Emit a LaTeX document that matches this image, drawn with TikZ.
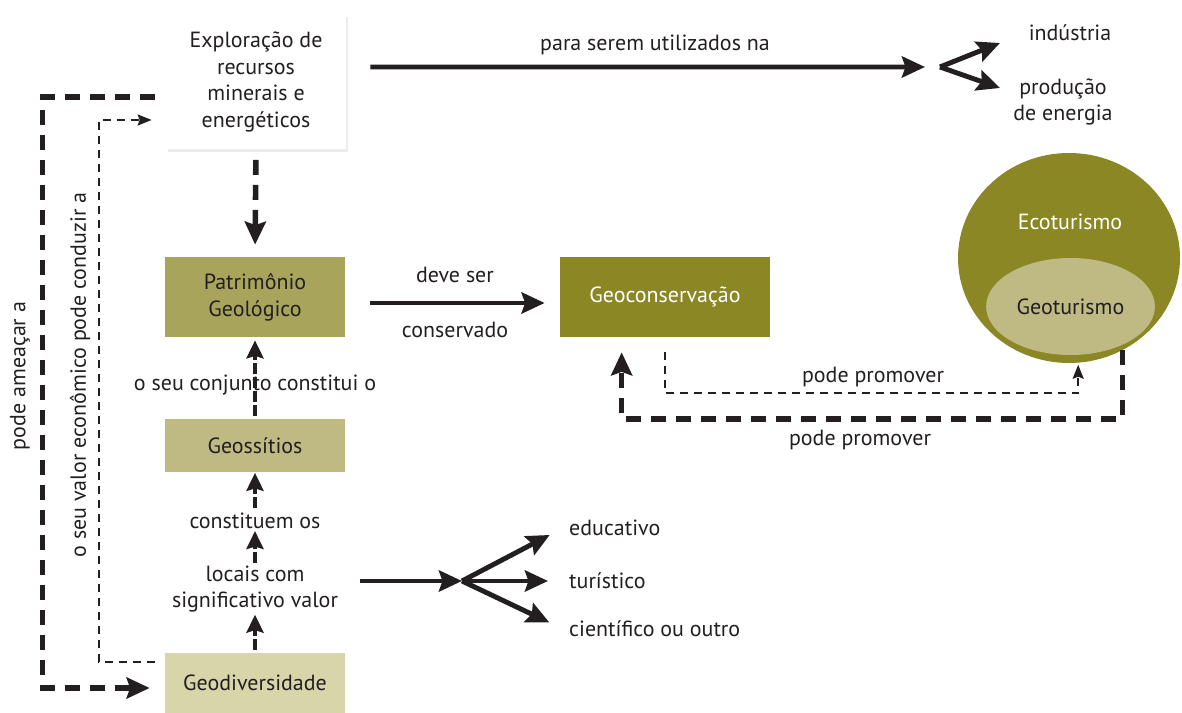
\documentclass[tikz,border=0pt]{standalone}
\usepackage{fontspec}
\setmainfont{PT Sans}
\usepackage{tikz}
\usetikzlibrary{positioning}
\usetikzlibrary{arrows.meta,shapes.geometric,shadows}

\definecolor{oliveDark}{HTML}{8A8724}
\definecolor{oliveMid}{HTML}{A9A45B}
\definecolor{oliveLight}{HTML}{BFB983}
\definecolor{olivePale}{HTML}{D7D5A9}
\definecolor{inkGray}{HTML}{231F20}

\begin{document}
\begin{tikzpicture}[font=\fontsize{12.5}{15.3}\selectfont, text=inkGray]
\tikzstyle{box}=[rectangle, minimum width=3.6cm, align=center, inner sep=0pt]
\tikzstyle{bigarrow}=[-{Stealth[length=0.46cm,width=0.42cm,inset=0.07cm]}, line width=2.8pt, draw=inkGray]
\tikzstyle{bigdash}=[-{Stealth[length=0.46cm,width=0.42cm,inset=0.07cm]}, line width=3.2pt, draw=inkGray, dash pattern=on 0.3cm off 0.2cm]
\tikzstyle{thindash}=[-{Stealth[length=0.28cm,width=0.22cm,inset=0.04cm]}, line width=1.1pt, draw=inkGray, dash pattern=on 0.16cm off 0.12cm]
\tikzstyle{stackarrow}=[-{Stealth[length=0.36cm,width=0.34cm,inset=0.05cm]}, line width=2.4pt, draw=inkGray, dash pattern=on 0.22cm off 0.06cm]

% \draw[help lines] (0,0) grid (24,14);
\useasboundingbox (0,0) rectangle (23.64,14.26);

\node[box, minimum height=2.7cm, fill=white, drop shadow={fill=black!15, shadow xshift=0.04cm, shadow yshift=-0.06cm}] (explor) at (5.12,12.62) {Exploração de\\recursos\\minerais e\\energéticos};
\node[box, minimum height=1.6cm, fill=oliveMid] (patrim) at (5.10,8.32) {Patrimônio\\Geológico};
\node[box, minimum height=1.06cm, fill=oliveLight] (geoss) at (5.10,5.34) {Geossítios};
\node[box, minimum height=1.2cm, fill=olivePale] (geoDiv) at (5.10,0.60) {Geodiversidade};
\node[box, minimum width=4.2cm, minimum height=1.6cm, fill=oliveDark, text=white] (geoCons) at (13.30,8.32) {Geoconservação};

\node[ellipse, fill=oliveDark, minimum width=4.44cm, minimum height=4.2cm] (ecoCircle) at (21.38,9.10) {};
\node[text=white] (ecoLbl) at (21.40,9.82) {Ecoturismo};
\node[ellipse, fill=oliveLight, minimum width=3.14cm, minimum height=1.94cm] (geoTur) at (21.41,8.13) {Geoturismo};

\node (paraLbl) at (13.10,13.36) {para serem utilizados na};
\node (industria) at (21.40,13.60) {indústria};
\node[align=center] (energia) at (21.26,12.22) {produção\\de energia};
\node (deveLbl) at (9.10,8.76) {deve ser};
\node (conservLbl) at (9.10,7.66) {conservado};

\node[inner sep=1pt] (conjLbl) at (5.10,6.56) {o seu conjunto constitui o};
\node[inner sep=1pt] (constLbl) at (5.10,3.84) {constituem os};
\node[align=center, inner sep=1pt] (locais) at (5.10,2.48) {locais com\\significativo valor};

\node[anchor=west] (educ) at (11.26,3.70) {educativo};
\node[anchor=west] (turis) at (11.26,2.64) {turístico};
\node[anchor=west] (cient) at (11.26,1.68) {científico ou outro};

\node[rotate=90] (ameacaLbl) at (0.40,6.74) {pode ameaçar a};
\node[rotate=90] (valorLbl) at (1.60,6.76) {o seu valor econômico pode conduzir a};

\node (promoTop) at (17.46,6.72) {pode promover};
\node (promoBot) at (17.20,5.46) {pode promover};

\coordinate (forkTop) at (18.80,12.92);
\coordinate (indTip) at (20.00,13.40);
\coordinate (enTip) at (20.00,12.50);
\coordinate (forkLow) at (9.24,2.64);

% top row
\draw[bigarrow, shorten <=0.48cm, shorten >=0.3cm] ([yshift=0.3cm]explor.east) -- (forkTop);
\draw[bigarrow] (forkTop) -- (indTip);
\draw[bigarrow] (forkTop) -- (enTip);

\draw[bigdash, shorten <=0.2cm, shorten >=0.24cm] (explor.south) -- (patrim.north);
\draw[bigarrow, shorten <=0.5cm, shorten >=0.3cm] ([yshift=-0.12cm]patrim.east) -- ([yshift=-0.12cm]geoCons.west);

% stack
\draw[stackarrow, shorten <=0.06cm, shorten >=0.06cm] (geoss.north) -- (patrim.south);
\draw[stackarrow, shorten <=0.06cm] (constLbl.north) -- (geoss.south);
\draw[stackarrow] (locais.north) -- (constLbl.south);
\draw[stackarrow, shorten <=0.06cm] (geoDiv.north) -- (locais.south);

\draw[bigarrow, shorten <=0.4cm] (locais.east |- forkLow) -- (forkLow);
\draw[bigarrow, shorten >=0.3cm] (forkLow) -- (educ.west);
\draw[bigarrow, shorten >=0.3cm] (forkLow) -- (turis.west);
\draw[bigarrow, shorten >=0.3cm] (forkLow) -- (cient.west);

% left loops
\draw[bigdash, shorten <=0.22cm, shorten >=0.3cm] ([yshift=-0.3cm]explor.west) -- ++(-2.46,0) |- ([yshift=-0.1cm]geoDiv.west);
\draw[thindash, shorten <=0.2cm, shorten >=0.28cm] ([yshift=0.42cm]geoDiv.west) -- ++(-1.32,0) |- ([yshift=-0.76cm]explor.west);

% promover
\draw[thindash, shorten <=0.3cm, shorten >=1pt] (geoCons.south) -- ++(0,-1.12) -| (ecoCircle.-85);
\draw[bigdash, shorten >=0.3cm] (ecoCircle.-60) -- ++(0,-1.37) -| ([xshift=1.24cm]geoCons.south west);

\end{tikzpicture}
\end{document}
